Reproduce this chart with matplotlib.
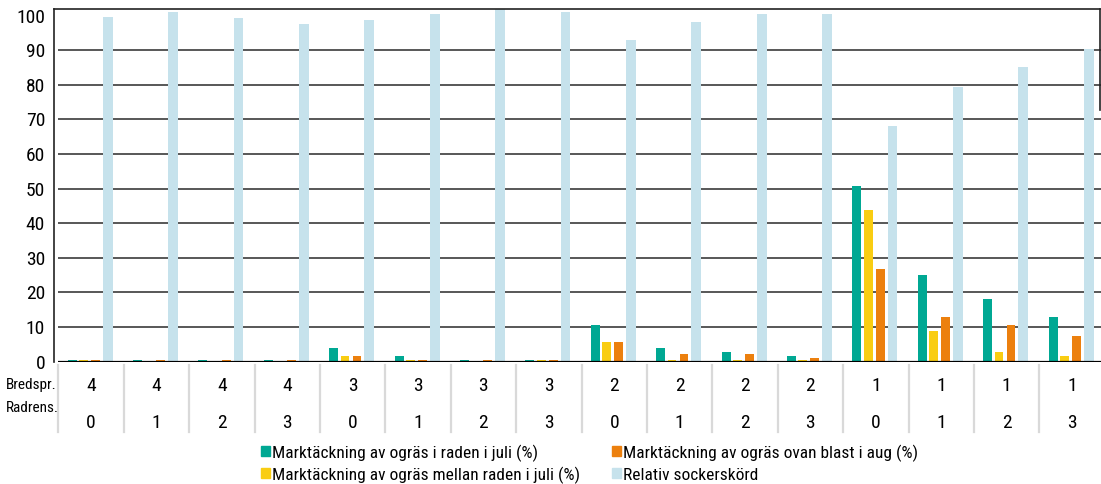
import numpy as np
import matplotlib
matplotlib.use("Agg")
import matplotlib.pyplot as plt
from matplotlib.lines import Line2D
from matplotlib.patches import Rectangle
from matplotlib import font_manager

installed = {f.name for f in font_manager.fontManager.ttflist}
fam = [n for n in ["Roboto Condensed", "Liberation Sans Narrow", "Roboto"] if n in installed]
plt.rcParams["font.family"] = fam + ["DejaVu Sans"]

# ── data ────────────────────────────────────────────────────────────────────
bredspr = ["4", "4", "4", "4", "3", "3", "3", "3", "2", "2", "2", "2", "1", "1", "1", "1"]
radrens = ["0", "1", "2", "3", "0", "1", "2", "3", "0", "1", "2", "3", "0", "1", "2", "3"]

i_raden_juli = [0.5, 0.5, 0.5, 0.5, 4.0, 1.7, 0.5, 0.5, 10.5, 4.0, 2.9, 1.6, 50.7, 25.1, 18.2, 12.9]
mellan_raden_juli = [0.5, 0, 0, 0, 1.7, 0.5, 0, 0.5, 5.8, 0.5, 0.5, 0.5, 43.7, 8.8, 2.9, 1.6]
ovan_blast_aug = [0.5, 0.5, 0.5, 0.5, 1.7, 0.5, 0.5, 0.5, 5.8, 2.3, 2.3, 1.2, 26.8, 12.9, 10.6, 7.5]
rel_sockerskord = [99.7, 101, 99.2, 97.5, 98.7, 100.4, 102.5, 101, 92.8, 98.1, 100.4, 100.4, 68.2, 79.3, 85.2, 90.4]

labels = [
    "Marktäckning av ogräs i raden i juli (%)",
    "Marktäckning av ogräs mellan raden i juli (%)",
    "Marktäckning av ogräs ovan blast i aug (%)",
    "Relativ sockerskörd",
]

C_GREEN = "#00A893"
C_YELLOW = "#F9CD12"
C_ORANGE = "#EC800E"
C_BLUE = "#C6E2EC"

W, H = 1101, 484
fig = plt.figure(figsize=(W / 100, H / 100), dpi=100)

# axes in pixel coordinates (group width 65.4 px, last group runs past the edge)
x0, x1 = 58.3, 58.3 + 16 * 65.4
y_zero, y_top = 361.7, 9
ax = fig.add_axes([x0 / W, (H - y_zero) / H, (x1 - x0) / W, (y_zero - y_top) / H])
ax.set_xlim(0, 16)
ax.set_ylim(0, 101.9)

x = np.arange(16)
series = [i_raden_juli, mellan_raden_juli, ovan_blast_aug, rel_sockerskord]
colors = [C_GREEN, C_YELLOW, C_ORANGE, C_BLUE]
offsets = [0.211, 0.384, 0.566, 0.755]
widths = [0.14, 0.135, 0.135, 0.15]

for yv in range(10, 100, 10):
    ax.axhline(yv, color="#4a4a4a", lw=1.3, zorder=1)

for vals, c, off, w in zip(series, colors, offsets, widths):
    ax.bar(x + off, vals, w, color=c, zorder=2)

ax.axhline(0, color="black", lw=1.6, zorder=3)

for s in ax.spines.values():
    s.set_visible(False)
ax.set_xticks([])
ax.set_yticks(np.arange(0, 101, 10))
ax.tick_params(axis="y", length=0, pad=9.5, labelsize=14)

# outer frame (slightly left of the plot area)
fx0, fx1 = 53.7 / W, 1100 / W
fy_top, fy_bot = (H - y_top) / H, (H - y_zero) / H
fig.add_artist(Line2D([fx0, fx0], [fy_bot, fy_top], color="#222222", lw=1.2))
fig.add_artist(Line2D([fx0, fx1], [fy_top, fy_top], color="#222222", lw=1.2))
fig.add_artist(Line2D([fx1, fx1], [fy_top, (H - 110) / H], color="#222222", lw=1.2))

# table below the chart
tr = ax.get_xaxis_transform()
def ay(py):
    return (y_zero - py) / (y_zero - y_top)

for k in range(16):
    ax.plot([k, k], [ay(365), ay(432)], color="#d9d9d9", lw=1.6, transform=tr, clip_on=False)
for k in range(16):
    ax.text(k + 0.5, ay(386), bredspr[k], transform=tr, ha="center", va="center", fontsize=14)
    ax.text(k + 0.5, ay(423), radrens[k], transform=tr, ha="center", va="center", fontsize=14)

fig.text(6 / W, 1 - 385 / H, "Bredspr.", ha="left", va="center", fontsize=11)
fig.text(6 / W, 1 - 408 / H, "Radrens.", ha="left", va="center", fontsize=11)

# legend in two columns
leg_pos = [(261, 453), (261, 475), (612, 453), (612, 475)]
for (px, py), c, lab in zip(leg_pos, colors, labels):
    fig.add_artist(Rectangle((px / W, 1 - (py + 3) / H), 9 / W, 10 / H, color=c,
                             transform=fig.transFigure))
    fig.text((px + 11) / W, 1 - py / H, lab, ha="left", va="center", fontsize=12.5)

fig.savefig("out.png", dpi=100)
